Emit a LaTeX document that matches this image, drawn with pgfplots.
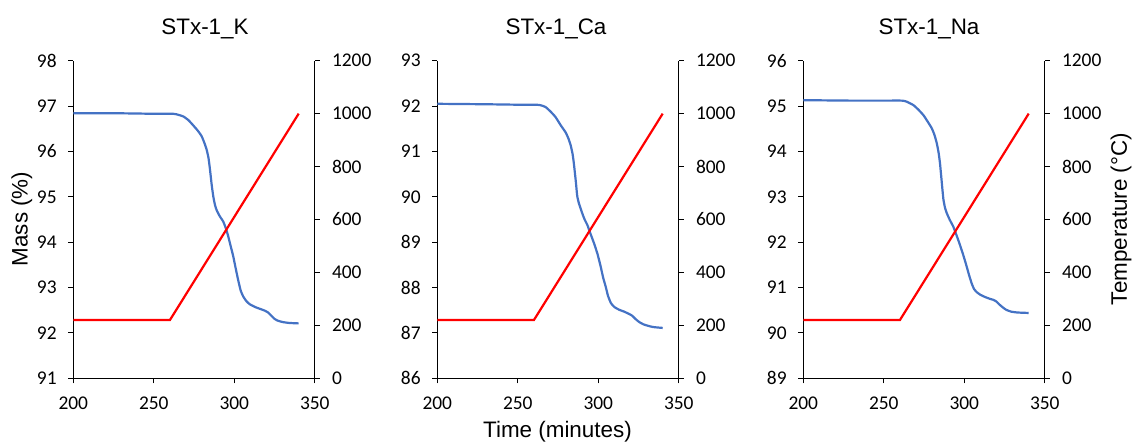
\documentclass[border=0pt]{standalone}
\usepackage{fontspec}
\setmainfont{Liberation Sans}
\newfontfamily\ticksfont{Carlito}
\usepackage{pgfplots}
\pgfplotsset{compat=1.18}

\definecolor{massblue}{HTML}{4472C4}
\definecolor{tempred}{HTML}{FF0000}

\pgfplotsset{
  tga base/.style={
    scale only axis, width=241.5bp, height=317.6bp, anchor=south west,
    xmin=200, xmax=350, xtick={200,250,300,350},
    tick align=outside, major tick length=5bp,
    axis line style={line width=1.1bp, black},
    every tick/.style={line width=1.1bp, black},
    ticklabel style={font=\ticksfont\fontsize{19.5}{22}\selectfont, inner sep=0pt},
    /pgf/number format/assume math mode=true,
    /pgf/number format/1000 sep={},
    clip=false,
  },
  tga mass/.style={tga base,
    axis y line*=left, axis x line*=bottom,
    ytick distance=1,
    yticklabel style={anchor=east, xshift=-11.5bp},
    xticklabel style={anchor=north, yshift=-13bp},
  },
  tga temp/.style={tga base,
    axis y line*=right, axis x line=none,
    ymin=0, ymax=1200, ytick={0,200,...,1200},
    yticklabel style={anchor=west, xshift=12bp},
  },
  massline/.style={massblue, line width=2.2bp, smooth, tension=0.3},
  templine/.style={tempred, line width=2.2bp},
}

% heating programme shared by the three runs
\pgfplotstableread{
t T
200 220
260 220
340 1000
}\tempprog

\pgfplotstableread{
t m
200 96.84
230 96.84
250 96.83
262 96.83
265 96.81
268.4 96.77
271.5 96.69
274.6 96.57
277.5 96.45
279.8 96.33
281.5 96.18
282.9 96.03
284 95.85
284.9 95.60
286 95.25
287 95.00
288 94.82
289.1 94.70
291 94.57
293.2 94.45
295 94.28
296.3 94.12
298 93.88
299.4 93.68
301 93.40
302.5 93.15
304 92.93
305.6 92.80
307.5 92.70
309.7 92.63
313 92.57
316 92.53
319 92.49
321 92.45
323 92.38
325 92.31
327 92.27
330 92.24
334 92.22
340 92.21
}\massK

\pgfplotstableread{
t m
200 92.05
230 92.04
250 92.03
261 92.03
264 92.02
267.2 91.98
270.3 91.88
273.4 91.76
276.6 91.58
279.7 91.42
281.5 91.28
282.8 91.14
284 90.95
284.8 90.74
286 90.35
286.9 90.02
288 89.85
290 89.64
291.5 89.50
293.2 89.38
295 89.20
297.3 88.98
299.5 88.74
301.5 88.46
303 88.22
304.6 88.02
306 87.82
307.8 87.66
310 87.57
313 87.51
316 87.47
319 87.42
321 87.38
323 87.31
325.4 87.24
328 87.19
330.6 87.16
334 87.13
340 87.11
}\massCa

\pgfplotstableread{
t m
200 95.13
230 95.12
250 95.12
261.2 95.12
264 95.10
268.4 95.02
271.5 94.92
274.6 94.80
277.2 94.66
279.8 94.51
281.5 94.36
282.9 94.18
284 93.98
284.9 93.74
286 93.32
287 92.95
288 92.76
289.1 92.64
291 92.49
293.2 92.34
295.3 92.14
297.3 91.94
299.5 91.70
301.5 91.46
303 91.27
304.6 91.09
306 90.97
307.7 90.90
310 90.84
313 90.79
316 90.75
318 90.73
320 90.69
322 90.62
324 90.56
326 90.51
329 90.47
333 90.45
340 90.44
}\massNa

\begin{document}
\begin{tikzpicture}
\useasboundingbox (0,0) rectangle (1134bp,444bp);

% STx-1_K
\begin{axis}[tga mass, at={(73.3bp,65.7bp)}, ymin=91, ymax=98]
  \addplot[massline] table[x=t, y=m] {\massK};
\end{axis}
\begin{axis}[tga temp, at={(73.3bp,65.7bp)}]
  \addplot[templine] table[x=t, y=T] {\tempprog};
\end{axis}

% STx-1_Ca
\begin{axis}[tga mass, at={(437.3bp,65.7bp)}, ymin=86, ymax=93]
  \addplot[massline] table[x=t, y=m] {\massCa};
\end{axis}
\begin{axis}[tga temp, at={(437.3bp,65.7bp)}]
  \addplot[templine] table[x=t, y=T] {\tempprog};
\end{axis}

% STx-1_Na
\begin{axis}[tga mass, at={(803.3bp,65.7bp)}, ymin=89, ymax=96]
  \addplot[massline] table[x=t, y=m] {\massNa};
\end{axis}
\begin{axis}[tga temp, at={(803.3bp,65.7bp)}]
  \addplot[templine] table[x=t, y=T] {\tempprog};
\end{axis}

% titles and axis labels
\begin{scope}[every node/.style={font=\fontsize{22.5}{26}\selectfont, inner sep=0pt}]
  \node[anchor=base] at (205bp,409.7bp) {STx-1\_K};
  \node[anchor=base] at (556bp,409.7bp) {STx-1\_Ca};
  \node[anchor=base] at (929bp,409.7bp) {STx-1\_Na};
  \node[anchor=base] at (557.5bp,7bp) {Time (minutes)};
  \node[rotate=90] at (21.7bp,225bp) {Mass (\%)};
  \node[rotate=90] at (1121bp,225bp) {Temperature (°C)};
\end{scope}
\end{tikzpicture}
\end{document}
